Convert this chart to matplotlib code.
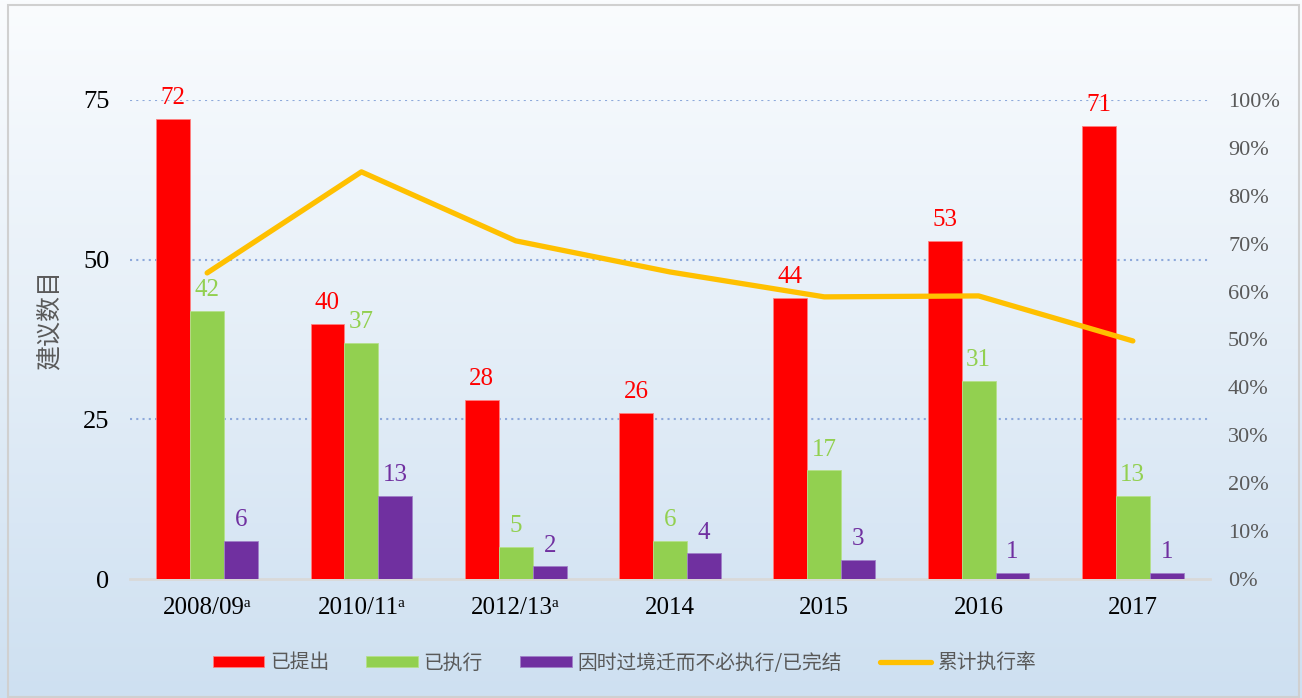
import matplotlib
matplotlib.use("Agg")
import matplotlib.pyplot as plt
from matplotlib.colors import LinearSegmentedColormap
from matplotlib.patches import Rectangle
import numpy as np

# 数据
years = ["2008/09ᵃ", "2010/11ᵃ", "2012/13ᵃ", "2014", "2015", "2016", "2017"]
proposed = [72, 40, 28, 26, 44, 53, 71]
implemented = [42, 37, 5, 6, 17, 31, 13]
no_longer = [6, 13, 2, 4, 3, 1, 1]
cum_rate = [63.9, 85.0, 70.6, 64.1, 58.9, 59.1, 49.7]

series_names = ["已提出", "已执行", "因时过境迁而不必执行/已完结", "累计执行率"]
c_red, c_green, c_purple, c_gold = "#FF0000", "#92D050", "#7030A0", "#FFC000"

serif = ["Liberation Serif", "DejaVu Serif"]
cjk = ["Noto Sans CJK SC", "DejaVu Sans"]

fig = plt.figure(figsize=(13.02, 6.98), dpi=100)

# 背景渐变
bg = fig.add_axes([0, 0, 1, 1], zorder=-10)
cmap = LinearSegmentedColormap.from_list("bg", ["#FAFCFE", "#CEE0F1"])
bg.imshow(np.linspace(0, 1, 256).reshape(-1, 1), aspect="auto", cmap=cmap,
          extent=[0, 1, 0, 1], origin="upper")
bg.add_patch(Rectangle((0.006, 0.001), 0.992, 0.992, fill=False,
                       edgecolor="#D0D0D0", linewidth=1.5))
bg.set_xlim(0, 1)
bg.set_ylim(0, 1)
bg.axis("off")

ax = fig.add_axes([130 / 1302, 119 / 698, 1080 / 1302, 479 / 698])
ax.patch.set_alpha(0)

x = np.arange(len(years))
w = 0.22
b1 = ax.bar(x - w, proposed, w, color=c_red, edgecolor="#FF8080", linewidth=0.6, zorder=3, label=series_names[0])
b2 = ax.bar(x, implemented, w, color=c_green, edgecolor="#B5E08A", linewidth=0.6, zorder=3, label=series_names[1])
b3 = ax.bar(x + w, no_longer, w, color=c_purple, edgecolor="#A080C8", linewidth=0.6, zorder=3, label=series_names[2])

for bars, vals, col in [(b1, proposed, c_red), (b2, implemented, c_green), (b3, no_longer, c_purple)]:
    for rect, v in zip(bars, vals):
        ax.annotate(str(v), (rect.get_x() + rect.get_width() / 2, v),
                    xytext=(0, 7), textcoords="offset points", ha="center", va="bottom",
                    color=col, fontsize=18, family=serif, annotation_clip=False, zorder=5)

ax.set_xlim(-0.5, len(years) - 0.5)
ax.set_ylim(0, 75)
ax.set_yticks([0, 25, 50, 75])
for yv in [25, 50, 75]:
    ax.axhline(yv, color="#8EA9DB", linestyle=(0, (1, 2)), linewidth=1.5, zorder=1)

ax.set_xticks(x)
ax.set_xticklabels(years, family=serif, fontsize=18, color="black")
for lab in ax.get_yticklabels():
    lab.set_family(serif)
ax.tick_params(axis="y", labelsize=19, colors="black", length=0, pad=15)
ax.tick_params(axis="x", length=0, pad=13)
for s in ["top", "right", "left"]:
    ax.spines[s].set_visible(False)
ax.spines["bottom"].set_color("#D9D9D9")
ax.spines["bottom"].set_linewidth(2)

ax.set_ylabel("建议数目", family=cjk, fontsize=18, color="#595959", labelpad=0)
ax.yaxis.set_label_coords(-68 / 1080, 0.54)

ax2 = ax.twinx()
ax2.set_ylim(0, 100)
ax2.set_yticks(np.arange(0, 101, 10))
ax2.set_yticklabels([f"{v}%" for v in range(0, 101, 10)], family=serif, fontsize=16, color="#595959")
ax2.tick_params(axis="y", length=0, pad=13)
for s in ax2.spines.values():
    s.set_visible(False)
ln, = ax2.plot(x, cum_rate, color=c_gold, linewidth=3.8, solid_capstyle="round",
               solid_joinstyle="round", zorder=4, label=series_names[3])

handles = [b1, b2, b3, ln]
leg = fig.legend(handles, series_names, loc="center", ncol=4,
                 bbox_to_anchor=(624 / 1302, 1 - 663 / 698), frameon=False,
                 prop={"family": cjk, "size": 14.2}, handlelength=2.6, handleheight=0.55,
                 handletextpad=0.3, columnspacing=1.9)
for t in leg.get_texts():
    t.set_color("#595959")

fig.savefig("out.png", dpi=100)
